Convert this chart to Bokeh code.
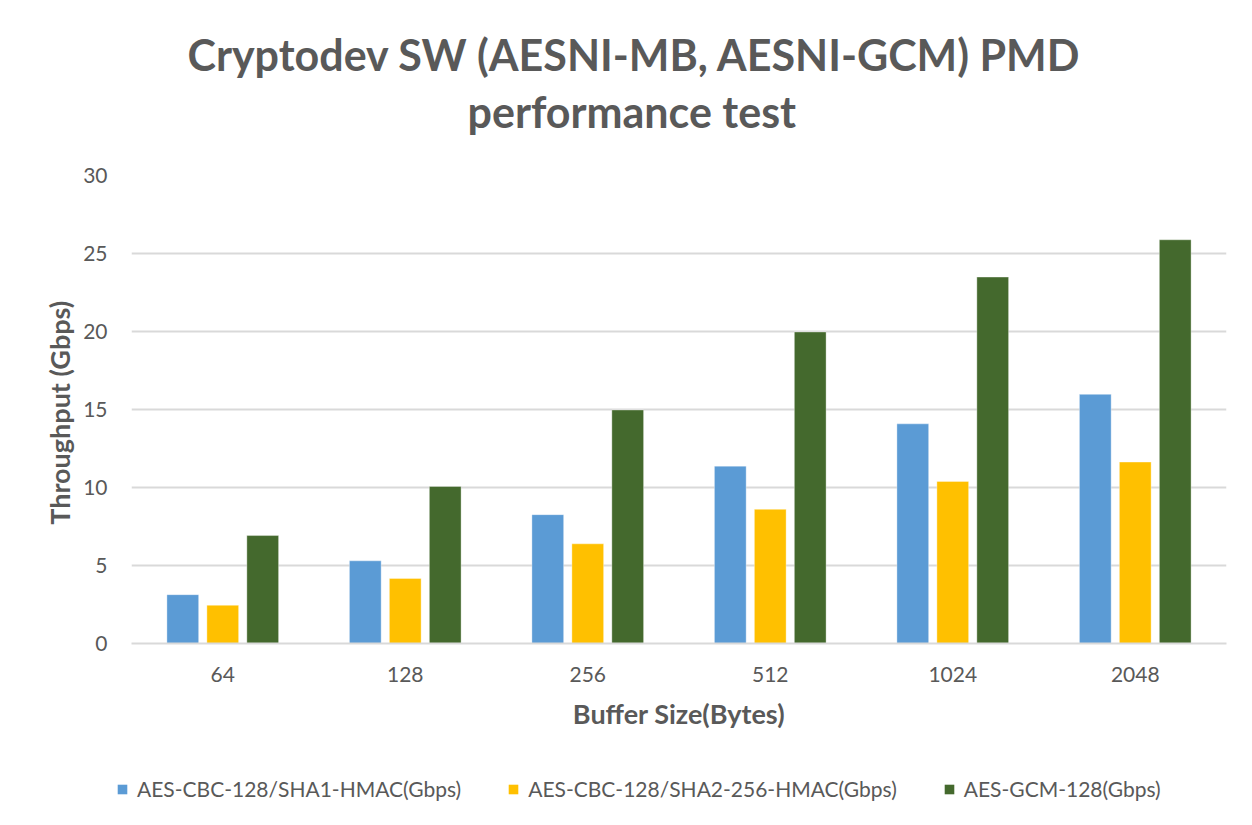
from bokeh.plotting import figure
from bokeh.models import (ColumnDataSource, FactorRange, Range1d, FixedTicker, Legend,
                          LegendItem, Title)
from bokeh.layouts import column
from bokeh.transform import dodge
from bokeh.embed import file_html
from bokeh.resources import INLINE

# ---- data ----
buffer_sizes = ["64", "128", "256", "512", "1024", "2048"]
cbc_sha1 = [3.13, 5.30, 8.26, 11.37, 14.08, 15.97]
cbc_sha256 = [2.45, 4.17, 6.39, 8.60, 10.39, 11.63]
gcm_128 = [6.92, 10.07, 14.97, 19.97, 23.49, 25.88]
series_names = ["AES-CBC-128/SHA1-HMAC(Gbps)", "AES-CBC-128/SHA2-256-HMAC(Gbps)", "AES-GCM-128(Gbps)"]
y_ticks = [0, 5, 10, 15, 20, 25, 30]

colors = ["#5B9BD5", "#FFC000", "#44692D"]
offsets = [-0.219, 0.0, 0.219]
keys = ["a", "b", "c"]
TEXT = "#595959"
GRID = "#D9D9D9"
FONT = "Lato"

src = ColumnDataSource(dict(x=buffer_sizes, a=cbc_sha1, b=cbc_sha256, c=gcm_128))

p = figure(x_range=FactorRange(*buffer_sizes), y_range=Range1d(0, 30),
           frame_width=1095, frame_height=468, output_backend="svg", toolbar_location=None,
           min_border_left=131, min_border_right=26, min_border_top=175, min_border_bottom=120)

for key, off, col in zip(keys, offsets, colors):
    p.vbar(x=dodge("x", off, range=p.x_range), top=key, width=0.174, source=src,
           fill_color=col, line_color="white", line_width=0.6, line_alpha=0.6)

# titles (second line added first so it sits closer to the frame)
t2 = Title(text="performance test", align="left", text_font=FONT, text_font_size="43px",
           text_font_style="bold", text_color=TEXT, standoff=78, offset=336)
t1 = Title(text="Cryptodev SW (AESNI-MB, AESNI-GCM) PMD", align="left", text_font=FONT,
           text_font_size="43px", text_font_style="bold", text_color=TEXT, standoff=-70, offset=56)
p.add_layout(t2, "above")
p.add_layout(t1, "above")

# axes
p.yaxis.ticker = FixedTicker(ticks=y_ticks)
p.yaxis.axis_line_color = None
p.yaxis.major_tick_line_color = None
p.yaxis.minor_tick_line_color = None
p.yaxis.major_label_text_font = FONT
p.yaxis.major_label_text_font_size = "21px"
p.yaxis.major_label_text_color = TEXT
p.yaxis.major_label_standoff = 18
p.yaxis.axis_label = "Throughput  (Gbps)"
p.yaxis.axis_label_text_font = FONT
p.yaxis.axis_label_text_font_size = "27px"
p.yaxis.axis_label_text_font_style = "bold"
p.yaxis.axis_label_text_color = TEXT
p.yaxis.axis_label_standoff = 4

p.xaxis.axis_line_color = GRID
p.xaxis.axis_line_width = 2
p.xaxis.major_tick_line_color = None
p.xaxis.minor_tick_line_color = None
p.xaxis.major_label_text_font = FONT
p.xaxis.major_label_text_font_size = "21px"
p.xaxis.major_label_text_color = TEXT
p.xaxis.major_label_standoff = 17
p.xaxis.axis_label = "Buffer Size(Bytes)"
p.xaxis.axis_label_text_font = FONT
p.xaxis.axis_label_text_font_size = "27px"
p.xaxis.axis_label_text_font_style = "bold"
p.xaxis.axis_label_text_color = TEXT
p.xaxis.axis_label_standoff = 12

p.xgrid.grid_line_color = None
p.ygrid.grid_line_color = GRID
p.ygrid.grid_line_width = 2
p.outline_line_color = None

# ---- legend strip (its swatch renderers sit outside the visible y range) ----
lg = figure(x_range=FactorRange(*buffer_sizes), y_range=Range1d(100, 200),
            frame_width=1252, frame_height=62, output_backend="svg", toolbar_location=None,
            min_border_left=0, min_border_right=0, min_border_top=0, min_border_bottom=0)
lg.axis.visible = False
lg.grid.grid_line_color = None
lg.outline_line_color = None
swatches = []
for key, off, col in zip(keys, offsets, colors):
    r = lg.vbar(x=dodge("x", off, range=lg.x_range), top=key, width=0.174, source=src,
                fill_color=col, line_color=None)
    swatches.append(r)

legend = Legend(items=[LegendItem(label=n, renderers=[r]) for n, r in zip(series_names, swatches)],
                orientation="horizontal", location=(116, 24),
                label_text_font=FONT, label_text_font_size="21px", label_text_color=TEXT,
                glyph_width=12, glyph_height=12, spacing=46, label_standoff=9,
                border_line_color=None, background_fill_alpha=0, margin=0, padding=0)
lg.add_layout(legend, "center")

layout = column(p, lg, spacing=0)
open("out.html", "w").write(file_html(layout, INLINE))
